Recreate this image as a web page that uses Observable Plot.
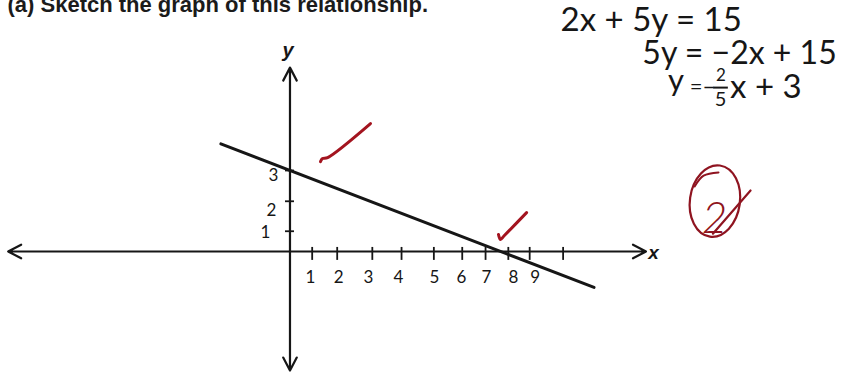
<!DOCTYPE html>
<html>
<head>
<meta charset="utf-8">
<script src="https://cdn.jsdelivr.net/npm/d3@7"></script>
<script src="https://cdn.jsdelivr.net/npm/@observablehq/plot@0.6"></script>
<style>
  html, body { margin: 0; padding: 0; background: #fff; }
  #chart svg { display: block; background: #fff; }
</style>
</head>
<body>
<div id="chart"></div>
<script>
// The relationship 2x + 5y = 15, rearranged to y = -2/5 x + 3
const slope = -2 / 5;
const intercept = 3;
const lineXExtent = [-2.46, 10.82];

// Half-axis lengths, drawn as arrows out from the origin
const xAxisExtent = [-10.03, 12.67];
const yAxisExtent = [-4.41, 6.81];

// Hand-drawn tick marks and their labels
const xTickPos = [0.79, 1.68, 2.93, 3.97, 5.12, 6.13, 6.96, 7.77, 8.53, 9.72];
const xLabelPos = [0.73, 1.73, 2.79, 3.86, 5.14, 6.10, 6.99, 7.95, 8.73];
const xTickLabels = ["1", "2", "3", "4", "5", "6", "7", "8", "9"];
const yTickPos = [0.75, 1.86, 3];
const yLabelPos = [-0.87, -0.66, -0.59];
const yLabelY = [0.70, 1.52, 2.81];
const yTickLabels = ["1", "2", "3"];

// Working written beside the graph
const workingLines = ["2x\u00a0+\u00a05y\u00a0=\u00a015", "5y\u00a0=\u00a0\u22122x\u00a0+\u00a015"];
const workingX = [9.63, 12.54];
const workingY = [8.15, 6.96];
const workingSize = [33, 32];

// Marker's ticks (each a short pen stroke)
const checkStrokes = [
  {id: "a", x: 1.085, y: 3.33}, {id: "a", x: 1.16, y: 3.44}, {id: "a", x: 1.34, y: 3.48}, {id: "a", x: 2.865, y: 4.74},
  {id: "b", x: 7.42, y: 0.63}, {id: "b", x: 7.49, y: 0.44}, {id: "b", x: 7.63, y: 0.59}, {id: "b", x: 8.42, y: 1.44}
];
const checkColor = "#a3141f";

// Circled mark "2" with its slash
const gradeRing = {cx: 15.14, cy: 1.85, rx: 0.89, ry: 1.33};
const gradeText = {x: 15.11, y: 0.67, label: "2"};
const gradeSlash = [{x: 15.05, y: 0.66}, {x: 16.39, y: 2.26}];
const gradeInner = [{x: 15.25, y: 2.93}, {x: 14.72, y: 2.81}, {x: 14.40, y: 2.41}];
const gradeColor = "#8f1420";

const ink = "#161616";
const hand = "Lato, 'Open Sans', sans-serif";

const axisArrows = [
  {x1: 0, y1: 0, x2: xAxisExtent[1], y2: 0},
  {x1: 0, y1: 0, x2: xAxisExtent[0], y2: 0},
  {x1: 0, y1: 0, x2: 0, y2: yAxisExtent[1]},
  {x1: 0, y1: 0, x2: 0, y2: yAxisExtent[0]}
];

const linePts = lineXExtent.map(x => ({x, y: slope * x + intercept}));

const chart = Plot.plot({
  width: 843,
  height: 374,
  margin: 0,
  x: {domain: [-10.302, 19.698], axis: null},
  y: {domain: [-4.556, 9.296], axis: null},
  marks: [
    Plot.text(["(a) Sketch the graph of this relationship."], {
      frameAnchor: "top-left", dx: 7, dy: 11, textAnchor: "start", lineAnchor: "bottom",
      fontFamily: "'Liberation Sans', Arial, sans-serif", fontWeight: "bold", fontSize: 22, fill: "#1b1b1b"
    }),
    Plot.arrow(axisArrows, {
      x1: "x1", y1: "y1", x2: "x2", y2: "y2",
      stroke: ink, strokeWidth: 2.2, headLength: 10, headAngle: 55
    }),
    Plot.ruleX(xTickPos, {x: d => d, y1: 0.15, y2: -0.33, stroke: ink, strokeWidth: 1.8}),
    Plot.ruleY(yTickPos, {y: d => d, x1: -0.16, x2: 0.16, stroke: ink, strokeWidth: 1.8}),
    Plot.text(xTickLabels, {
      x: (d, i) => xLabelPos[i], y: -0.96, text: d => d,
      fontFamily: hand, fontSize: 17, fill: ink
    }),
    Plot.text(yTickLabels, {
      x: (d, i) => yLabelPos[i], y: (d, i) => yLabelY[i], text: d => d,
      fontFamily: hand, fontSize: 17, fill: ink
    }),
    Plot.text(["y"], {
      x: -0.07, y: 7.22, text: d => d, lineAnchor: "bottom",
      fontFamily: "'Liberation Sans', Arial, sans-serif", fontWeight: "bold", fontStyle: "italic",
      fontSize: 20, fill: ink
    }),
    Plot.text(["x"], {
      x: 12.94, y: -0.26, text: d => d, lineAnchor: "bottom",
      fontFamily: "'Liberation Sans', Arial, sans-serif", fontWeight: "bold", fontStyle: "italic",
      fontSize: 19, fill: ink
    }),
    Plot.line(linePts, {x: "x", y: "y", stroke: ink, strokeWidth: 3}),
    Plot.line(checkStrokes, {
      x: "x", y: "y", z: "id", curve: "catmull-rom",
      stroke: checkColor, strokeWidth: 3, strokeLinecap: "round", strokeLinejoin: "round"
    }),
    // working
    Plot.text(workingLines, {
      x: (d, i) => workingX[i], y: (d, i) => workingY[i], text: d => d,
      fontSize: (d, i) => workingSize[i],
      textAnchor: "start", lineAnchor: "bottom", fontFamily: hand, fill: ink
    }),
    Plot.text(["y"], {
      x: 13.45, y: 5.95, text: d => d, textAnchor: "start", lineAnchor: "bottom",
      fontFamily: hand, fontSize: 31, fill: ink
    }),
    Plot.text(["="], {x: 14.45, y: 6.1, text: d => d, fontFamily: hand, fontSize: 22, fill: ink}),
    Plot.text(["\u2212"], {x: 14.92, y: 6.06, text: d => d, fontFamily: hand, fontSize: 22, fill: ink}),
    Plot.text(["2"], {x: 15.34, y: 6.52, text: d => d, fontFamily: hand, fontSize: 17, fill: ink}),
    Plot.ruleY([6.07], {y: d => d, x1: 15.08, x2: 15.6, stroke: ink, strokeWidth: 2}),
    Plot.text(["5"], {x: 15.32, y: 5.63, text: d => d, fontFamily: hand, fontSize: 20, fill: ink}),
    Plot.text(["x\u00a0+\u00a03"], {
      x: 15.66, y: 5.70, text: d => d, textAnchor: "start", lineAnchor: "bottom",
      fontFamily: hand, fontSize: 33, fill: ink
    }),
    // circled grade
    (index, scales) => {
      const cx = scales.x(gradeRing.cx), cy = scales.y(gradeRing.cy);
      const rx = scales.x(gradeRing.cx + gradeRing.rx) - cx;
      const ry = cy - scales.y(gradeRing.cy + gradeRing.ry);
      return d3.create("svg:ellipse")
        .attr("cx", cx).attr("cy", cy).attr("rx", rx).attr("ry", ry)
        .attr("transform", `rotate(8 ${cx} ${cy})`)
        .attr("fill", "none").attr("stroke", gradeColor).attr("stroke-width", 2.2)
        .node();
    },
    Plot.line(gradeInner, {x: "x", y: "y", curve: "catmull-rom", stroke: gradeColor, strokeWidth: 2}),
    Plot.text([gradeText], {
      x: "x", y: "y", text: "label", lineAnchor: "bottom",
      fontFamily: hand, fontStyle: "italic", fontWeight: 300, fontSize: 44, fill: gradeColor
    }),
    Plot.line(gradeSlash, {x: "x", y: "y", stroke: gradeColor, strokeWidth: 2.2, strokeLinecap: "round"})
  ]
});

document.getElementById("chart").appendChild(chart);
</script>
</body>
</html>
